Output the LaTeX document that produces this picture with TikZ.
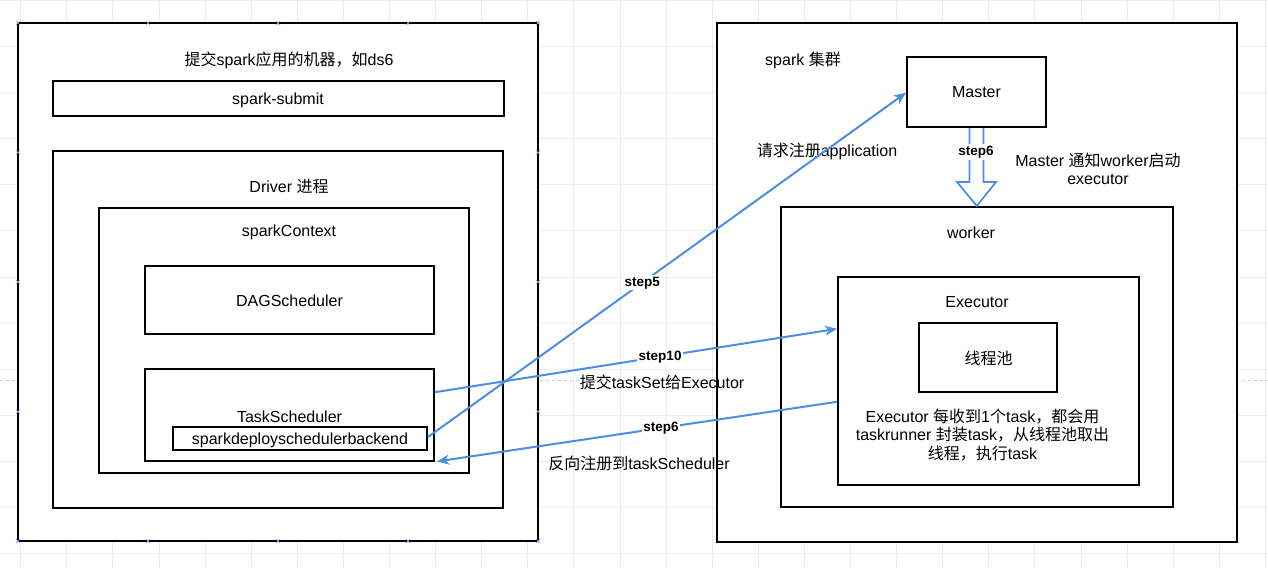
\documentclass[tikz,border=0pt]{standalone}
\usepackage{fontspec}
\setmainfont{Liberation Sans}
\newfontfamily\cjk{Noto Sans CJK SC}
\usetikzlibrary{arrows.meta,calc}
\newcommand\zh[1]{{\cjk #1}}
\definecolor{arrowblue}{RGB}{74,143,226}
\definecolor{gridc}{RGB}{236,236,236}
\definecolor{dashc}{RGB}{215,205,195}
\definecolor{handle}{RGB}{125,172,230}
\begin{document}
\begin{tikzpicture}[x=1pt,y=-1pt,
  box/.style={draw=black, line width=2pt, fill=white, rectangle, inner sep=0pt},
  txt/.style={font=\fontsize{16}{18.5}\selectfont, inner sep=0pt, align=center},
  steplbl/.style={font=\fontsize{13.5}{15}\selectfont\bfseries, fill=white, inner sep=1.5pt},
  flow/.style={draw=arrowblue, line width=2pt, -{Stealth[length=12pt,width=10pt,inset=3.5pt]}},
  hollow/.style={draw=arrowblue, line width=1.7pt, fill=white, line join=miter},
  handlemark/.style={draw=handle, line width=0.7pt},
]
\useasboundingbox (0,0) rectangle (1268,568);
\fill[white] (0,0) rectangle (1268,568);
% background grid
\foreach \i in {0,...,27} \draw[gridc, line width=0.8pt] ({20.6+46.1*\i},0) -- ++(0,568);
\foreach \j in {0,...,12} \draw[gridc, line width=0.8pt] (0,{0.3+46.1*\j}) -- ++(1268,0);
\draw[dashc, line width=0.8pt, dash pattern=on 3pt off 3pt] (0,380.5) -- (1268,380.5);

% left machine
\node[box, minimum width=520pt, minimum height=518pt] (outerL) at (278,282) {};
\node[box, minimum width=451pt, minimum height=35pt] (submit) at (278,98.5) {};
\node[box, minimum width=450pt, minimum height=357pt] (driver) at (278,329) {};
\node[box, minimum width=370pt, minimum height=265pt] (ctx) at (284,340.5) {};
\node[box, minimum width=289pt, minimum height=68.5pt] (dag) at (289.5,300) {};
\node[box, minimum width=289pt, minimum height=92.5pt] (task) at (289.5,415.2) {};
\node[box, minimum width=254pt, minimum height=23pt] (backend) at (300,438.5) {};

\node[txt] (titleL) at (289,60) {\zh{提交}spark\zh{应用的机器，如}ds6};
\node[txt] (submitlbl) at (278,100) {spark-submit};
\node[txt] (driverlbl) at (289,187) {Driver \zh{进程}};
\node[txt] (ctxlbl) at (289,232) {sparkContext};
\node[txt] (daglbl) at (289.5,301) {DAGScheduler};
\node[txt] (tasklbl) at (289.5,416.5) {TaskScheduler};
\node[txt] (backendlbl) at (300,440) {sparkdeployschedulerbackend};

% connection handles on outer left box
\foreach \hx/\hy in {18/23,148/23,278/23,408/23,538/23,18/541,148/541,278/541,408/541,538/541,18/152.5,18/282,18/411.5,538/152.5,538/282,538/411.5}
  \draw[handlemark] ($(\hx,\hy)+(-2,-2)$) -- ($(\hx,\hy)+(2,2)$) ($(\hx,\hy)+(-2,2)$) -- ($(\hx,\hy)+(2,-2)$);

% right cluster
\node[box, minimum width=520pt, minimum height=519pt] (outerR) at (977,282.5) {};
\node[box, minimum width=139pt, minimum height=70pt] (master) at (976.5,92) {};
\node[box, minimum width=392.5pt, minimum height=300.5pt] (worker) at (976.8,357.2) {};
\node[box, minimum width=301pt, minimum height=207.5pt] (executor) at (988.5,380.8) {};
\node[box, minimum width=138.5pt, minimum height=69pt] (pool) at (988.2,357.5) {};

\node[txt] (clusterlbl) at (803,60) {spark \zh{集群}};
\node[txt] (masterlbl) at (976.5,92) {Master};
\node[txt] (workerlbl) at (971,233) {worker};
\node[txt] (executorlbl) at (977,302) {Executor};
\node[txt] (poollbl) at (988.5,358) {\zh{线程池}};
\node[txt] (exectext) at (982.5,434.8) {Executor \zh{每收到}1\zh{个}task\zh{，都会用}\\taskrunner \zh{封装}task\zh{，从线程池取出}\\\zh{线程，执行}task};
\node[txt] (notify) at (1098,169) {Master \zh{通知}worker\zh{启动}\\executor};

% free labels
\node[txt] (reqlbl) at (827,151) {\zh{请求注册}application};
\node[txt] (submitset) at (662,382) {\zh{提交}taskSet\zh{给}Executor};
\node[txt] (reverse) at (639,463.5) {\zh{反向注册到}taskScheduler};

% hollow arrow master -> worker
\draw[hollow] ($(master.south)+(-7,0)$) -- ($(worker.north)+(-7.3,-24)$) -- ($(worker.north)+(-19.8,-24)$)
  -- (worker.north) -- ($(worker.north)+(19.2,-24)$) -- ($(worker.north)+(6.7,-24)$) -- ($(master.south)+(7,0)$);
\node[steplbl] (s6a) at (976,152) {step6};

% flows
\coordinate (b5) at ($(backend.east)+(0,-1.5)$);
\coordinate (m5) at ($(master.west)+(0,0.7)$);
\draw[flow] (b5) -- node[steplbl, pos=0.448] (s5) {step5} (m5);
\coordinate (t10) at ($(task.east)+(0,-23)$);
\coordinate (e10) at ($(executor.west)+(0,-52)$);
\draw[flow] (t10) -- node[steplbl, pos=0.56] (s10) {step10} (e10);
\coordinate (e6) at ($(executor.west)+(0,21)$);
\coordinate (t6) at ($(task.south east)+(2,-1)$);
\draw[flow] (e6) -- node[steplbl, pos=0.44] (s6b) {step6} (t6);
\end{tikzpicture}
\end{document}
